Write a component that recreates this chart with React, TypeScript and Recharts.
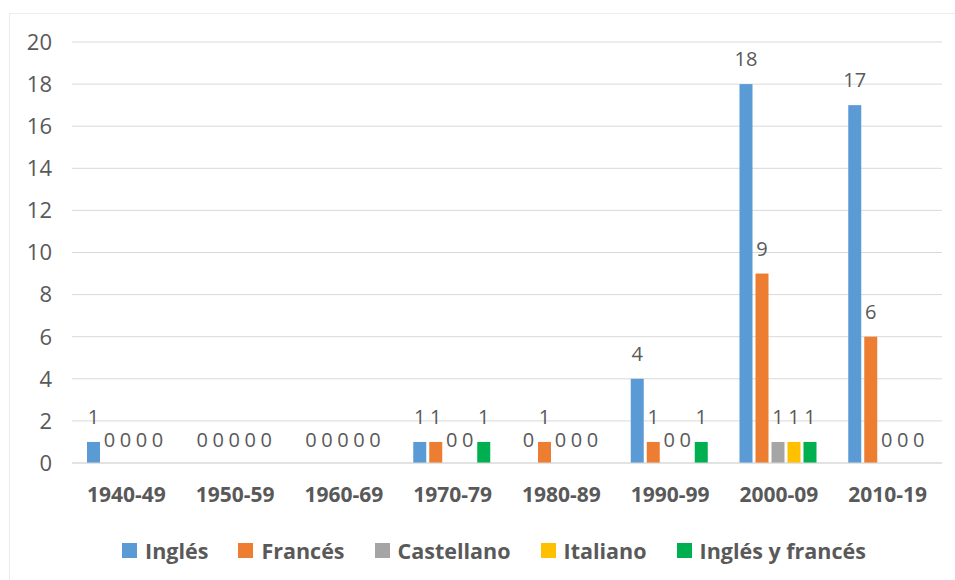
import React from 'react';
import {
  BarChart,
  Bar,
  XAxis,
  YAxis,
  CartesianGrid,
  Legend,
} from 'recharts';

// Traducciones publicadas por década y lengua de origen

const decades = ['1940-49', '1950-59', '1960-69', '1970-79', '1980-89', '1990-99', '2000-09', '2010-19'];
const ingles = [1, 0, 0, 1, 0, 4, 18, 17];
const frances = [0, 0, 0, 1, 1, 1, 9, 6];
const castellano = [0, 0, 0, 0, 0, 0, 1, 0];
const italiano = [0, 0, 0, 0, 0, 0, 1, 0];
const inglesFrances = [0, 0, 0, 1, 0, 1, 1, 0];
const yTicks = [0, 2, 4, 6, 8, 10, 12, 14, 16, 18, 20];

const series = [
  { key: 'ingles', name: 'Inglés', color: '#5B9BD5', values: ingles },
  { key: 'frances', name: 'Francés', color: '#ED7D31', values: frances },
  { key: 'castellano', name: 'Castellano', color: '#A5A5A5', values: castellano },
  { key: 'italiano', name: 'Italiano', color: '#FFC000', values: italiano },
  { key: 'inglesFrances', name: 'Inglés y francés', color: '#00B050', values: inglesFrances },
];

const data = decades.map((decade, i) => {
  const row: Record<string, string | number> = { decade };
  series.forEach((s) => {
    row[s.key] = s.values[i];
  });
  return row;
});

const FONT = '"Open Sans", sans-serif';
const TEXT = '#595959';

// Bar plus its value on top; zero bars still get their "0" label
const makeShape = (key: string, color: string) => (props: any) => {
  const { x, y, width, height, payload } = props;
  const value = payload?.[key];
  const lift = value === 0 ? 16 : 18;
  return (
    <g>
      {height > 0 && <rect x={x} y={y} width={width} height={height} fill={color} />}
      <text
        x={x + width / 2}
        y={y - lift}
        textAnchor="middle"
        fill={TEXT}
        fontFamily={FONT}
        fontSize={20}
      >
        {value}
      </text>
    </g>
  );
};

const LegendRow = () => (
  <div
    style={{
      display: 'flex',
      justifyContent: 'center',
      alignItems: 'center',
      height: 40,
      paddingLeft: 33,
      fontFamily: FONT,
      fontWeight: 700,
      fontSize: 21.5,
      color: TEXT,
    }}
  >
    {series.map((s, i) => (
      <div
        key={s.key}
        style={{
          display: 'flex',
          alignItems: 'center',
          marginRight: i < series.length - 1 ? 30 : 0,
        }}
      >
        <span style={{ width: 15, height: 15, background: s.color, marginRight: 8 }} />
        <span>{s.name}</span>
      </div>
    ))}
  </div>
);

export default function App() {
  return (
    <div style={{ position: 'absolute', left: 0, top: 0, width: 955, height: 580, overflow: 'hidden', background: '#fff' }}>
      <div
        style={{
          position: 'absolute',
          left: 9,
          top: 13,
          width: 970,
          height: 600,
          border: '1px solid #ececec',
        }}
      />
      <div style={{ position: 'absolute', left: 0, top: 0 }}>
        <BarChart
          width={955}
          height={580}
          data={data}
          margin={{ top: 42, right: 13, left: 0, bottom: 10 }}
          barCategoryGap={15}
          barGap={3}
        >
          <CartesianGrid vertical={false} stroke="#D9D9D9" />
          <XAxis
            dataKey="decade"
            axisLine={{ stroke: '#D9D9D9' }}
            tickLine={false}
            tickSize={0}
            tickMargin={24}
            height={67}
            interval={0}
            tick={{ fill: TEXT, fontFamily: FONT, fontSize: 21, fontWeight: 700 }}
          />
          <YAxis
            domain={[0, 20]}
            ticks={yTicks}
            axisLine={false}
            tickLine={false}
            tickSize={0}
            tickMargin={20}
            width={72}
            tick={{ fill: TEXT, fontFamily: FONT, fontSize: 22 }}
          />
          <Legend
            verticalAlign="bottom"
            content={<LegendRow />}
            wrapperStyle={{ left: 0, width: 955 }}
          />
          {series.map((s) => (
            <Bar
              key={s.key}
              dataKey={s.key}
              name={s.name}
              fill={s.color}
              isAnimationActive={false}
              shape={makeShape(s.key, s.color)}
            />
          ))}
        </BarChart>
      </div>
    </div>
  );
}
